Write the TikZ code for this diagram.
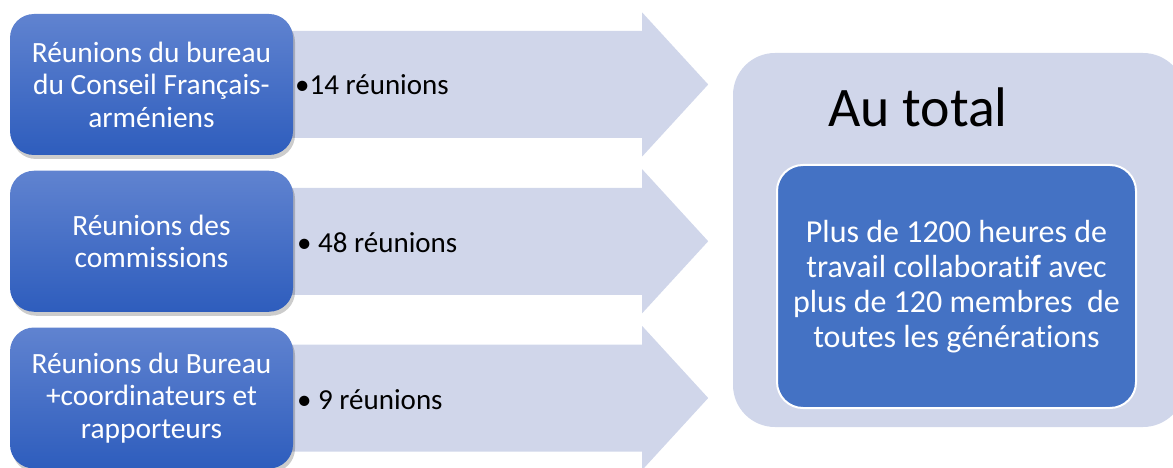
\documentclass[tikz,border=0pt]{standalone}
\usepackage{fontspec}
\setmainfont{Carlito}[Ligatures=NoCommon,RawFeature={-calt}]
\usetikzlibrary{shadows,calc,backgrounds}
\definecolor{lav}{RGB}{208,214,234}
\definecolor{accblue}{RGB}{68,114,196}
\definecolor{gradtop}{RGB}{96,131,208}
\definecolor{gradbot}{RGB}{46,93,189}
\newcommand\tii{t\kern0pt i}
\begin{document}
\begin{tikzpicture}[x=1pt,y=-1pt,
  srcbox/.style={rounded corners=24pt, minimum width=283pt, minimum height=141pt,
    top color=gradtop, bottom color=gradbot, text=white, align=center, inner sep=0pt,
    font=\fontsize{29.4}{32.5}\selectfont,
    drop shadow={fill=black, opacity=0.2, shadow xshift=2pt, shadow yshift=-4pt}},
  bullettxt/.style={anchor=west, inner sep=0pt, font=\fontsize{29}{34}\selectfont, text=black},
  arrowfill/.style={fill=lav},
  totbox/.style={rounded corners=42pt, fill=lav, minimum width=452pt, minimum height=374pt, inner sep=0pt},
  detbox/.style={rounded corners=26pt, fill=accblue, draw=white, line width=2pt,
    minimum width=359pt, minimum height=243pt, text=white, align=center, inner sep=0pt,
    font=\fontsize{32}{35}\selectfont}]
\useasboundingbox (0,0) rectangle (1173,468);

% source boxes
\node[srcbox] (b1) at (151.5,84.5) {Réunions du bureau\\du Conseil Français-\\arméniens};
\node[srcbox] (b2) at (151.5,241.25) {Réunions des\\commissions};
\node[srcbox] (b3) at (151.5,398) {Réunions du Bureau\\+coordinateurs et\\rapporteurs};

% arrows behind the boxes
\begin{scope}[on background layer]
\foreach \b in {b1,b2,b3}{
  \fill[arrowfill] ($(\b.east)+(-15,-53.5)$) -- ($(\b.east)+(349,-53.5)$) -- ($(\b.east)+(349,-72)$)
    -- ($(\b.east)+(415,0)$) -- ($(\b.east)+(349,72)$) -- ($(\b.east)+(349,53.5)$)
    -- ($(\b.east)+(-15,53.5)$) -- cycle;
}
\end{scope}

% bullet texts
\node[bullettxt] (t1) at (295,85) {•14 réunions};
\node[bullettxt] (t2) at (297,243) {• 48 réunions};
\node[bullettxt] (t3) at (297,400) {• 9 réunions};

% total box
\node[totbox] (tot) at (959,240) {};
\node[anchor=base, inner sep=0pt, font=\fontsize{55.8}{60}\selectfont] (autot) at (918,127) {Au total};
\node[detbox] (det) at (956.5,286.5) {Plus de 1200 heures de\\travail collabora\tii\textbf{f} avec\\plus de 120 membres~ de\\toutes les généra\tii ons};
\end{tikzpicture}
\end{document}
